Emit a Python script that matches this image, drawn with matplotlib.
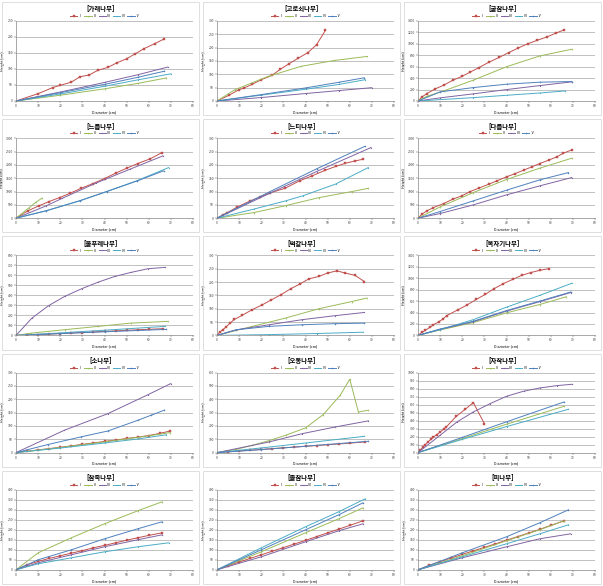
import matplotlib
matplotlib.use("Agg")
import matplotlib.pyplot as plt
from matplotlib.patches import Rectangle

plt.rcParams['font.family'] = ['Noto Sans CJK KR', 'DejaVu Sans']

titles = ['[가래나무]', '[고로쇠나무]', '[굴참나무]',
          '[느릅나무]', '[느티나무]', '[다릅나무]',
          '[물푸레나무]', '[떡갈나무]', '[복자기나무]',
          '[소나무]', '[오동나무]', '[자작나무]',
          '[참죽나무]', '[졸참나무]', '[피나무]']
y_max = [250, 300, 1400, 3000, 300, 3000, 800, 300, 1400, 300, 600, 1000, 400, 400, 400]
y_step = [50, 50, 200, 500, 50, 500, 100, 50, 200, 50, 100, 100, 50, 50, 50]
series_names = ['Ⅰ', 'Ⅱ', 'Ⅲ', 'Ⅳ', 'Ⅴ']
x_label = 'Diameter (cm)'
y_label = 'Height (cm)'

# series order: I (red), II (green), III (purple), IV (cyan), V (blue)
garae_x = [[0, 10, 16.6, 20, 25, 29, 33, 37, 41.5, 45.5, 50, 54, 58, 62.6, 66.7],
           [0, 20, 40, 55, 68], [0, 20, 40, 55, 68.6], [0, 20, 40, 55, 70], [0, 20, 40, 55, 67]]
garae_y = [[0, 23, 42, 49, 59, 76, 81, 96, 105, 119, 132, 148, 164, 179, 193],
           [0, 18, 38, 55, 72], [0, 28, 58, 82, 106], [0, 22, 46, 66, 85], [0, 26, 52, 74, 93]]

gorosoe_x = [[0, 5.3, 9.8, 12, 15.8, 20, 24.8, 28.6, 32.6, 36.8, 41, 45, 49],
             [0, 8, 23, 38, 53, 67.7], [0, 20, 40, 55, 70], [0, 20, 40, 55, 67], [0, 20, 40, 55, 66.5]]
gorosoe_y = [[0, 21, 42, 48, 62, 80, 96, 119, 140, 161, 181, 211, 265],
             [0, 42, 92, 130, 152, 167], [0, 13, 28, 39, 50], [0, 22, 44, 62, 80], [0, 24, 49, 70, 87]]

gulcham_x = [[0, 1.8, 4, 7.8, 11.6, 15.8, 19.8, 23.6, 27.4, 31.9, 36.8, 41, 45.4, 49.5, 53.7, 58.2, 62.3, 66.2],
             [0, 4, 11.6, 25, 40, 55, 69.5], [0, 10, 25, 40, 55, 69.5], [0, 25, 40, 55, 66.5],
             [0, 10, 25, 40, 55, 69.5]]
gulcham_y = [[0, 70, 130, 212, 276, 365, 429, 506, 582, 676, 765, 847, 929, 1000, 1060, 1120, 1188, 1247],
             [0, 82, 176, 365, 600, 788, 906], [0, 55, 125, 200, 270, 335], [0, 59, 100, 140, 176],
             [0, 159, 235, 294, 329, 341]]

neureup_x = [[0, 5.3, 10.3, 15, 19.7, 24.5, 29.5, 34.8, 40, 45, 50, 55, 60.6, 66],
             [0, 3, 6, 9, 11.7], [0, 13.6, 21, 36, 51.5, 66.4], [0, 13.6, 28.8, 41, 54.5, 69],
             [0, 13.6, 28.8, 41, 54.5, 66.7]]
neureup_y = [[0, 275, 462, 625, 775, 937, 1125, 1300, 1487, 1687, 1875, 2050, 2225, 2462],
             [0, 200, 400, 600, 750], [0, 462, 750, 1312, 1837, 2337], [0, 275, 650, 1000, 1400, 1900],
             [0, 280, 655, 1000, 1390, 1775]]

neuti_x = [[0, 2.5, 4.7, 9.2, 15, 19.6, 24, 30.7, 37.3, 43, 49, 53.6, 58, 62.5, 66],
           [0, 16.6, 31, 46, 61, 68.4], [0, 24, 45, 69.6], [0, 16.6, 31, 38.8, 53.6, 68.4], [0, 24, 45, 66.7]]
neuti_y = [[0, 12, 21, 42, 65, 80, 95, 112, 140, 159, 180, 194, 206, 215, 221],
           [0, 21, 47, 77, 100, 112], [0, 94, 175, 265], [0, 34, 65, 84, 128, 190], [0, 100, 185, 269]]

dareup_x = [[0, 1.8, 4, 7, 11.6, 16, 19.8, 23.6, 27.4, 32, 35.6, 40, 44, 47.7, 51.4, 55, 59, 62.7, 65.7, 69.5],
            [0, 10, 25, 40, 55, 69.5], [0, 10, 25, 40, 55, 69.5], [], [0, 10, 25, 40, 55, 68]]
dareup_y = [[0, 150, 275, 400, 550, 725, 837, 1000, 1125, 1275, 1400, 1550, 1675, 1800, 1925, 2050, 2175, 2300, 2437, 2562],
            [0, 425, 962, 1450, 1875, 2250], [0, 175, 500, 875, 1212, 1525], [], [0, 250, 650, 1050, 1437, 1712]]

mulpure_x = [[0, 5, 10, 15, 20, 25, 30, 35, 40, 45, 50, 55, 60, 66.6],
             [0, 7, 22, 37, 52, 68.5], [0, 7.2, 14.7, 22, 29.7, 37.2, 44.7, 52, 59.7, 67.3],
             [0, 20, 40, 67.3], [0, 20, 40, 68]]
mulpure_y = [[0, 4, 9, 13, 19, 24, 29, 34, 40, 45, 51, 56, 61, 67],
             [0, 23, 57, 90, 123, 140], [0, 173, 297, 390, 467, 533, 590, 630, 667, 680],
             [0, 25, 52, 90], [0, 18, 36, 60]]

tteokgal_x = [[0, 1.2, 2.7, 4.2, 5.7, 7.9, 11.3, 15.8, 20.3, 24.3, 28.8, 33.3, 37.3, 41.5, 46, 50, 54.2, 57.9, 62.4, 66.6],
              [0, 16, 31, 46, 61, 67.6], [0, 8.7, 23.6, 38.5, 53.4, 66.6], [0, 23.6, 45, 66],
              [0, 8.7, 23.6, 38.5, 53.4, 66.6]]
tteokgal_y = [[0, 12, 22, 32, 45, 60, 75, 96, 114, 132, 152, 175, 192, 212, 221, 234, 242, 234, 225, 202],
              [0, 34, 65, 100, 127, 140], [0, 21, 40, 59, 74, 86], [0, 3, 7, 12],
              [0, 21, 34, 40, 44, 46]]

bokjagi_x = [[0, 1.8, 3.3, 5.3, 7, 9.3, 11.3, 13, 18.3, 22, 26.3, 30.4, 34.4, 38.6, 42.9, 47, 51, 55.2, 59.4],
             [0, 10, 25, 40, 55, 67], [0, 10, 25, 40, 55, 69], [0, 10, 25, 40, 55, 69.5], [0, 10, 25, 40, 55, 69]]
bokjagi_y = [[0, 53, 88, 141, 188, 235, 288, 347, 453, 529, 629, 718, 818, 906, 982, 1053, 1100, 1140, 1170],
             [0, 95, 225, 395, 540, 676], [0, 105, 240, 425, 590, 750], [0, 100, 276, 494, 700, 912],
             [0, 112, 247, 435, 600, 759]]

so_x = [[0, 5, 10, 15, 20, 25, 30, 35, 40, 45, 50, 55, 60, 65, 69.7],
        [0, 20, 40, 55, 69.7], [0, 21.9, 41.5, 59.6, 70], [0, 20, 40, 55, 68], [0, 14.3, 29.4, 41.5, 55, 61, 67]]
so_y = [[0, 5, 10, 15, 20, 25, 31, 36, 42, 47, 53, 58, 64, 72, 81],
        [0, 19, 40, 57, 75], [0, 84, 146, 217, 259], [0, 17, 36, 51, 67], [0, 30, 59, 81, 121, 140, 159]]

odong_x = [[0, 5, 10, 15, 20, 25, 30, 35, 40, 45, 50, 55, 60, 66.9],
           [0, 8.7, 16, 23.6, 31, 40, 48, 55.7, 60, 63.9, 68.4], [0, 23.6, 38.5, 53.4, 68.4],
           [0, 20, 40, 66.6], [0, 20, 40, 68.4]]
odong_y = [[0, 6, 12, 18, 24, 30, 36, 41, 47, 53, 59, 65, 71, 80],
           [0, 25, 55, 90, 130, 185, 285, 430, 550, 305, 318], [0, 80, 142, 192, 238],
           [0, 35, 72, 122], [0, 22, 48, 85]]

jajak_x = [[0, 1, 2.3, 3.3, 4.5, 5.9, 7, 8.6, 10, 11.6, 12.8, 17.3, 21.4, 25, 30],
           [0, 20, 40, 66], [0, 10, 17.6, 25, 32.6, 40, 47.7, 55, 62.7, 69.5], [0, 20, 40, 68], [0, 20, 40, 66]]
jajak_y = [[0, 29, 71, 100, 133, 167, 196, 225, 258, 292, 321, 454, 542, 625, 362],
           [0, 175, 355, 579], [0, 217, 383, 508, 612, 704, 767, 808, 837, 854], [0, 165, 325, 542],
           [0, 190, 385, 633]]

chamjuk_x = [[0, 5, 10, 15, 20, 25, 30, 35, 40, 45, 50, 55, 60, 66],
             [0, 10, 25, 40, 55, 66], [0, 10, 25, 40, 55, 66], [0, 10, 25, 40, 55, 69], [0, 10, 25, 40, 55, 66]]
chamjuk_y = [[0, 25, 42, 57, 70, 83, 96, 110, 122, 135, 148, 160, 172, 185],
             [0, 85, 160, 230, 295, 340], [0, 35, 75, 115, 150, 175], [0, 30, 60, 90, 115, 135],
             [0, 50, 100, 155, 205, 240]]

jolcham_x = [[0, 5, 10, 15, 20, 25, 30, 35, 40, 45, 50, 55, 60, 66],
             [0, 20, 40, 55, 66], [0, 20, 40, 55, 66], [0, 20, 40, 55, 67], [0, 20, 40, 55, 66]]
jolcham_y = [[0, 20, 39, 57, 75, 93, 111, 129, 147, 166, 185, 203, 222, 245],
             [0, 90, 185, 255, 310], [0, 65, 140, 195, 230], [0, 110, 215, 290, 355], [0, 100, 200, 275, 335]]

pi_x = [[0, 5, 10, 15, 20, 25, 30, 35, 40, 45, 50, 55, 60, 66],
        [0, 20, 40, 55, 66], [0, 20, 40, 55, 69], [0, 20, 40, 55, 68], [0, 20, 40, 55, 68]]
pi_y = [[0, 22, 41, 59, 77, 95, 112, 130, 148, 166, 184, 202, 222, 245],
        [0, 70, 145, 200, 245], [0, 60, 115, 155, 180], [0, 65, 130, 180, 225], [0, 85, 165, 235, 300]]

all_x = [garae_x, gorosoe_x, gulcham_x, neureup_x, neuti_x, dareup_x, mulpure_x, tteokgal_x,
         bokjagi_x, so_x, odong_x, jajak_x, chamjuk_x, jolcham_x, pi_x]
all_y = [garae_y, gorosoe_y, gulcham_y, neureup_y, neuti_y, dareup_y, mulpure_y, tteokgal_y,
         bokjagi_y, so_y, odong_y, jajak_y, chamjuk_y, jolcham_y, pi_y]

colors = ['#c0504d', '#9bbb59', '#8064a2', '#4bacc6', '#4f81bd']
markers = ['s', '^', 'x', '*', 'o']

W, H = 603, 586
cell_w, cell_h = W / 3, H / 5

fig = plt.figure(figsize=(W / 100, H / 100), dpi=100)
fig.patch.set_facecolor('white')

for i, title in enumerate(titles):
    r, c = divmod(i, 3)
    x0 = c * cell_w
    y0 = r * cell_h

    # chart border
    fig.add_artist(Rectangle(((x0 + 2) / W, 1 - (y0 + cell_h - 2) / H),
                             (cell_w - 4) / W, (cell_h - 4) / H,
                             transform=fig.transFigure, fill=False,
                             edgecolor='#d9d9d9', lw=0.6))

    ax = fig.add_axes([(x0 + 16) / W, 1 - (y0 + 101) / H, 177 / W, 80 / H])
    for k in range(5):
        if not all_x[i][k]:
            continue
        ms = 1.6 if k == 0 else 0.8
        ax.plot(all_x[i][k], all_y[i][k], color=colors[k], lw=0.7,
                marker=markers[k], markersize=ms, markeredgewidth=0.3,
                label=series_names[k])

    ax.set_xlim(0, 80)
    ax.set_ylim(0, y_max[i])
    ax.set_xticks(range(0, 81, 10))
    ax.set_yticks(range(0, y_max[i] + 1, y_step[i]))
    ax.tick_params(labelsize=2.4, length=1.2, width=0.3, pad=1, colors='#404040')
    ax.yaxis.grid(True, color='#a6a6a6', lw=0.5)
    ax.set_axisbelow(True)
    for s in ['top', 'right']:
        ax.spines[s].set_visible(False)
    for s in ['left', 'bottom']:
        ax.spines[s].set_color('#868686')
        ax.spines[s].set_linewidth(0.5)
    ax.set_xlabel(x_label, fontsize=2.6, labelpad=1.5)
    ax.set_ylabel(y_label, fontsize=2.6, labelpad=1.5)

    ax.legend(loc='lower center', bbox_to_anchor=(0.5, 1.01), ncol=5,
              fontsize=2.4, frameon=False, handlelength=2.2,
              columnspacing=0.8, handletextpad=0.3, borderpad=0.1)

    fig.text((x0 + cell_w / 2) / W, 1 - (y0 + 9) / H, title,
             ha='center', va='center', fontsize=4.6, fontweight='bold')

fig.savefig('out.png', dpi=100, facecolor='white')
